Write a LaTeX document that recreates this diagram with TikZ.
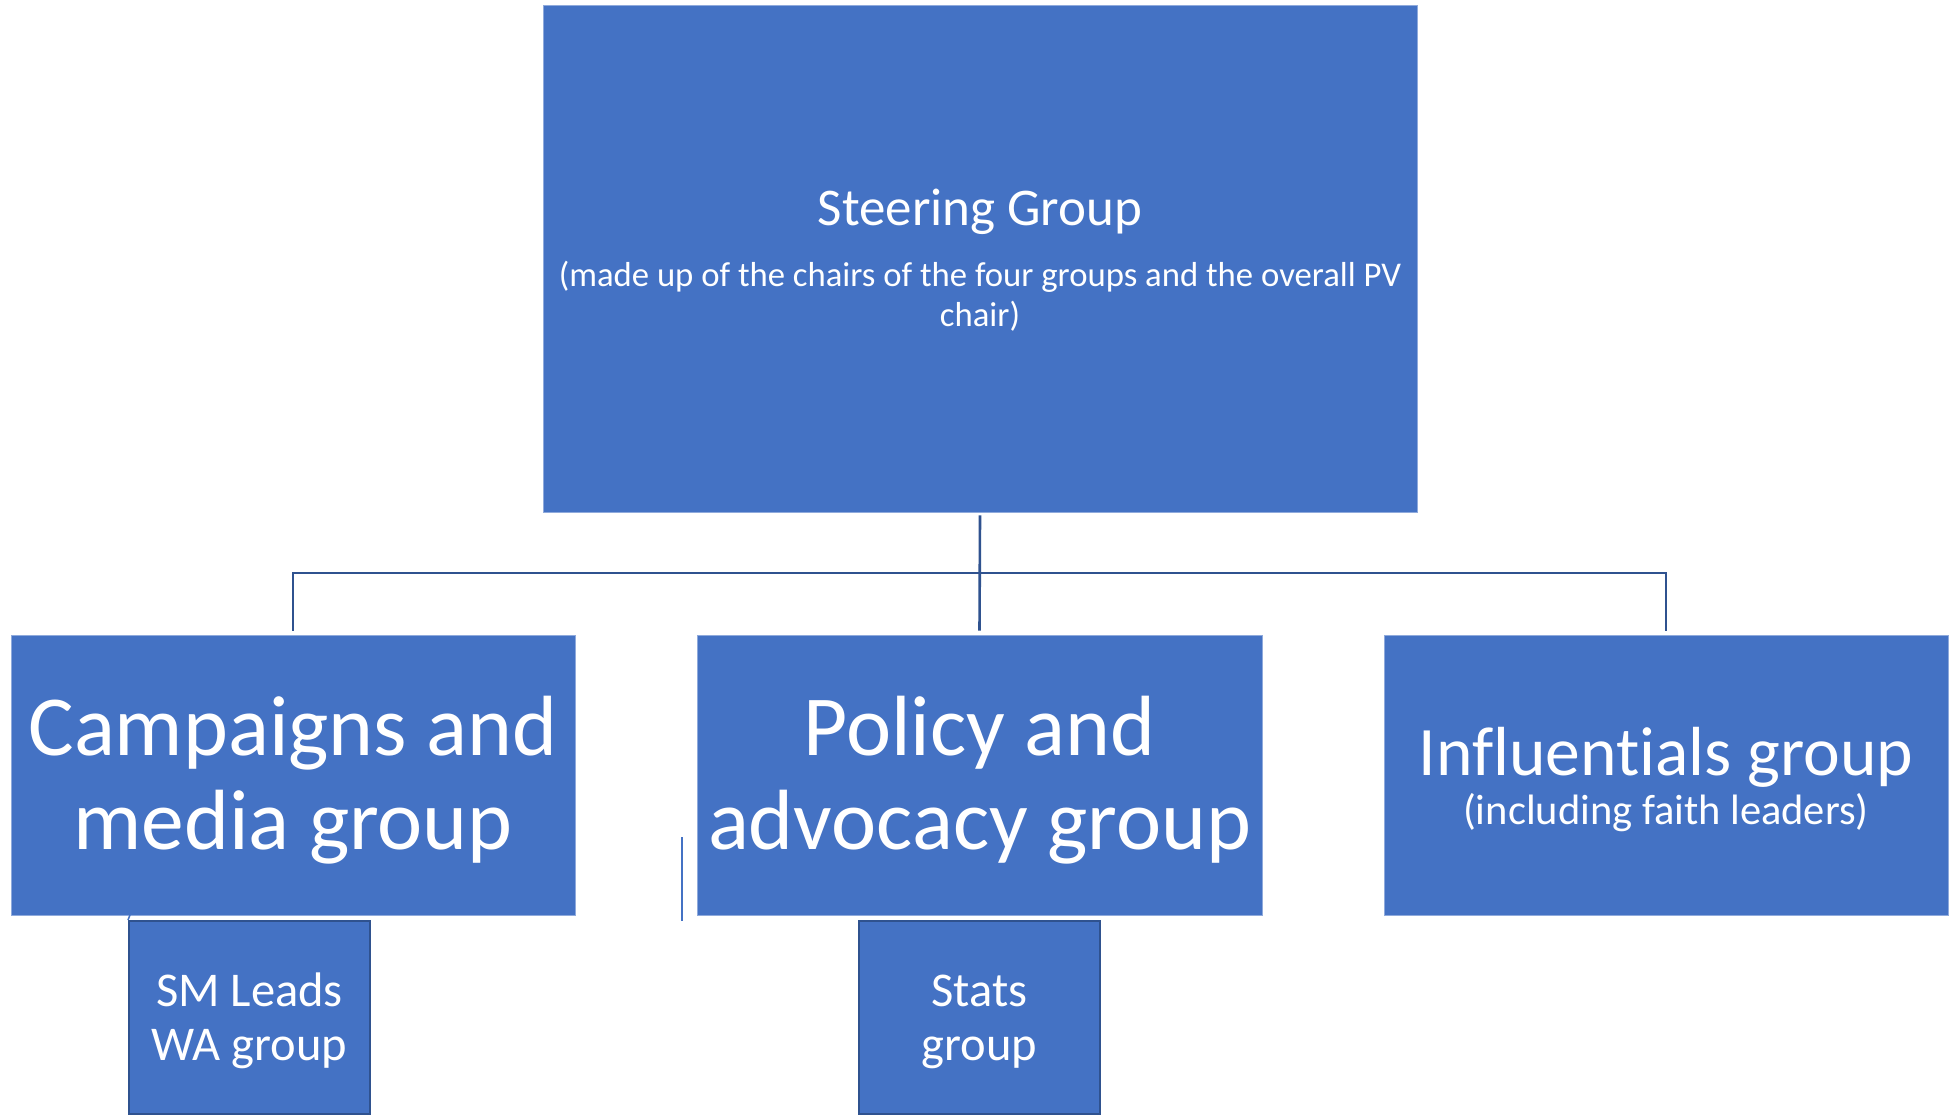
\documentclass[tikz,border=0pt]{standalone}
\usepackage{fontspec}
\setmainfont{Carlito}[Ligatures=NoCommon]
\definecolor{boxblue}{HTML}{4472C4}
\definecolor{edgeblue}{HTML}{2F528F}
\definecolor{lightedge}{HTML}{8FAADC}
\begin{document}
\begin{tikzpicture}[x=1pt,y=-1pt,
  groupbox/.style={rectangle,fill=boxblue,draw=lightedge,line width=0.8pt,inner sep=0pt,anchor=center},
  subbox/.style={rectangle,fill=boxblue,draw=edgeblue,line width=2pt,inner sep=0pt,
    anchor=center,minimum width=241pt,minimum height=193pt},
  label/.style={text=white,align=center,anchor=base,inner sep=0pt},
  link/.style={draw=edgeblue,line width=2.6pt},
  faint/.style={draw=boxblue,line width=1.5pt}]
\useasboundingbox (0,0) rectangle (1952,1114);
\fill[white] (0,0) rectangle (1952,1114);

% boxes
\node[groupbox,minimum width=874pt,minimum height=507pt] (steer) at (980,258.5) {};
\node[groupbox,minimum width=564pt,minimum height=280pt] (camp) at (293,775) {};
\node[groupbox,minimum width=565pt,minimum height=280pt] (policy) at (979.5,775) {};
\node[groupbox,minimum width=564pt,minimum height=280pt] (infl) at (1666,775) {};
\node[subbox] (sm) at (249.5,1017.5) {};
\node[subbox] (stats) at (979.5,1017.5) {};

% texts (base anchor = baseline of last line)
\node[label,font=\fontsize{34.7}{40}\selectfont] (steertext) at (980,326.2)
  {\fontsize{53}{64}\selectfont Steering Group\\[21pt]
   (made up of the chairs of the four groups and the overall PV\\chair)};
\node[label,font=\fontsize{85.5}{93.3}\selectfont] (camptext) at (293,849)
  {Campaigns and\\media group};
\node[label,font=\fontsize{85.5}{93.3}\selectfont] (policytext) at (979.5,849)
  {Policy and\\advocacy group};
\node[label,font=\fontsize{42.5}{48.6}\selectfont] (infltext) at (1666,824.2)
  {\fontsize{69.5}{80}\selectfont Influentials group\\
   (including faith leaders)};
\node[label,font=\fontsize{48.5}{54.7}\selectfont] (smtext) at (249.5,1060.7)
  {SM Leads\\WA group};
\node[label,font=\fontsize{48.5}{54.7}\selectfont] (statstext) at (979.5,1060.7)
  {Stats\\group};

% connectors
\coordinate (hub) at (980,573);
\draw[link] ([yshift=-3pt]steer.south) -- ([yshift=4pt]policy.north);
\draw[link] ([yshift=4pt]camp.north) |- (hub) -| ([yshift=4pt]infl.north);

\coordinate (s1) at (682,837);
\coordinate (s2) at (682,921);
\draw[faint] (s1) -- (s2);
\coordinate (t1) at (130,915);
\draw[faint] (t1) -- (sm.north west);
\end{tikzpicture}
\end{document}
